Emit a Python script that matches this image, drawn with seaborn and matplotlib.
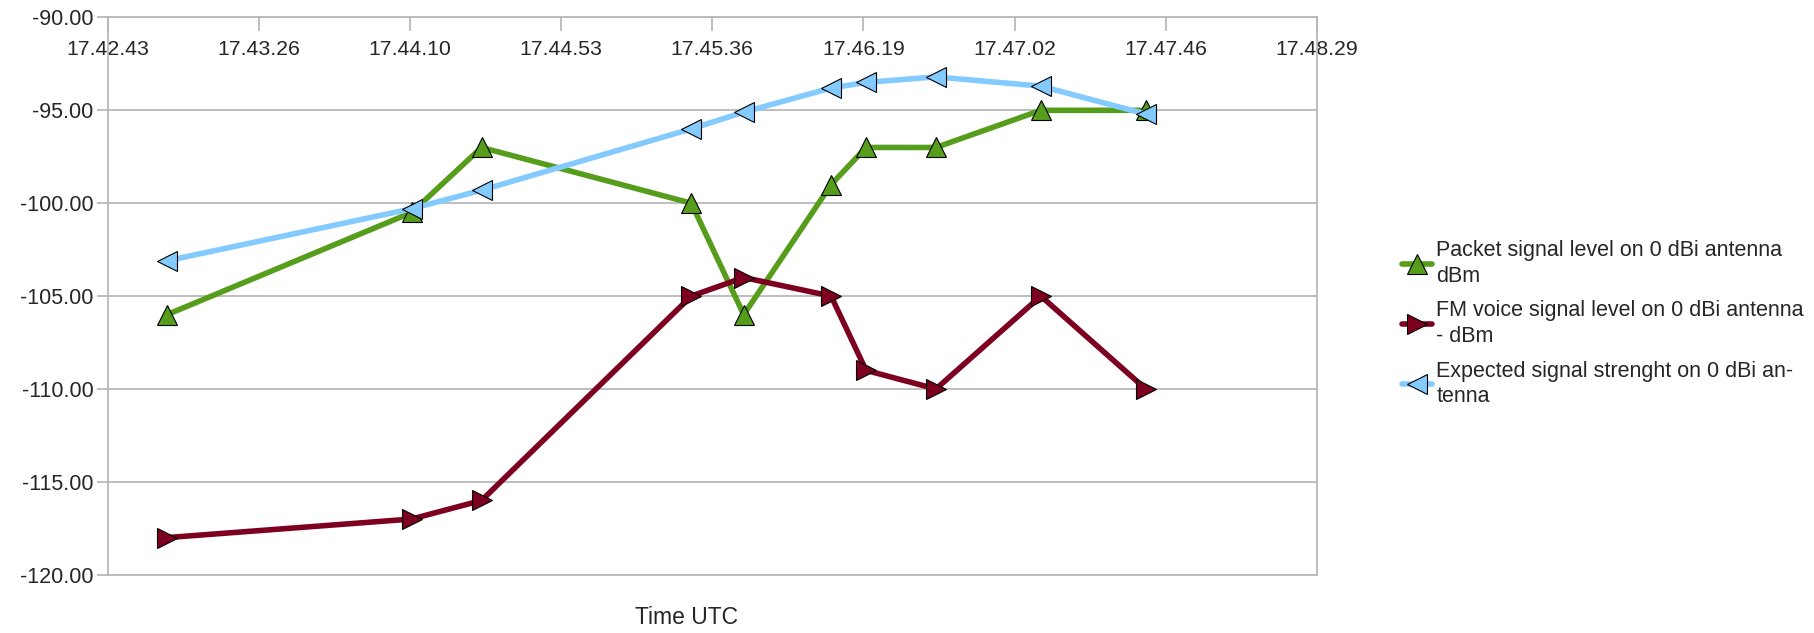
import numpy as np
import pandas as pd
import matplotlib
matplotlib.use("Agg")
import matplotlib.pyplot as plt
import seaborn as sns


# seconds after 17:00:00 UTC
TIMES = [2580, 2650, 2670, 2730, 2745, 2770, 2780, 2800, 2830, 2860]

PACKET = [-106, -100.5, -97, -100, -106, -99, -97, -97, -95, -95]
FM_VOICE = [-118, -117, -116, -105, -104, -105, -109, -110, -105, -110]
EXPECTED = [-103.1, -100.3, -99.3, -96, -95.1, -93.8, -93.5, -93.2, -93.7, -95.2]

SERIES_NAMES = [
    "Packet signal level on 0 dBi antenna\ndBm",
    "FM voice signal level on 0 dBi antenna\n- dBm",
    "Expected signal strenght on 0 dBi an-\ntenna",
]

X_TICK_LABELS = [
    "17.42.43", "17.43.26", "17.44.10", "17.44.53", "17.45.36",
    "17.46.19", "17.47.02", "17.47.46", "17.48.29",
]
X_MIN = 2563
X_MAX = 2909
Y_TICKS = [-120, -115, -110, -105, -100, -95, -90]

COLORS = ["#579d1c", "#7e0021", "#83caff"]
MARKERS = ["^", ">", "<"]


def build_frame():
    rows = []
    for name, values in zip(SERIES_NAMES, [PACKET, FM_VOICE, EXPECTED]):
        for t, v in zip(TIMES, values):
            rows.append({"time": t, "level": v, "series": name})
    return pd.DataFrame(rows)


def main():
    sns.set_style("white")
    plt.rcParams["font.family"] = ["Liberation Sans", "DejaVu Sans"]
    plt.rcParams["font.size"] = 15

    df = build_frame()

    fig = plt.figure(figsize=(18.14, 6.33), dpi=100)
    ax = fig.add_axes([0.0593, 0.092, 0.6667, 0.8805])

    sns.lineplot(
        data=df,
        x="time",
        y="level",
        hue="series",
        style="series",
        hue_order=SERIES_NAMES,
        style_order=SERIES_NAMES,
        palette=dict(zip(SERIES_NAMES, COLORS)),
        markers=dict(zip(SERIES_NAMES, MARKERS)),
        dashes=False,
        linewidth=4,
        markersize=15,
        markeredgecolor="black",
        markeredgewidth=0.8,
        ax=ax,
    )

    ax.set_xlim(X_MIN, X_MAX)
    ax.set_ylim(-120, -90)

    ax.set_xticks(np.linspace(X_MIN, X_MAX, len(X_TICK_LABELS)))
    ax.set_xticklabels(X_TICK_LABELS)
    ax.xaxis.tick_top()
    ax.tick_params(axis="x", direction="in", length=10, width=1.2,
                   color="#b3b3b3", pad=-30, labelsize=15.3)

    ax.set_yticks(Y_TICKS)
    ax.set_yticklabels([f"{v:.2f}" for v in Y_TICKS])
    ax.tick_params(axis="y", direction="out", length=8, width=1.2,
                   color="#b3b3b3", pad=2, labelsize=15.5, left=True)

    ax.grid(axis="y", color="#b3b3b3", linewidth=1.2)
    ax.grid(axis="x", visible=False)
    for spine in ax.spines.values():
        spine.set_color("#b3b3b3")
        spine.set_linewidth(1.2)

    ax.set_xlabel("")
    ax.set_ylabel("")
    fig.text(0.3787, 0.024, "Time UTC", ha="center", va="center", fontsize=16.5)

    leg = ax.legend(
        loc="upper left",
        bbox_to_anchor=(0.768, 0.634),
        bbox_transform=fig.transFigure,
        frameon=False,
        handlelength=1.4,
        handletextpad=0.2,
        labelspacing=0.62,
        fontsize=15.5,
        borderaxespad=0,
    )
    for text in leg.get_texts():
        text.set_linespacing(1.3)

    fig.savefig("out.png", dpi=100)
    plt.close(fig)


if __name__ == "__main__":
    main()
